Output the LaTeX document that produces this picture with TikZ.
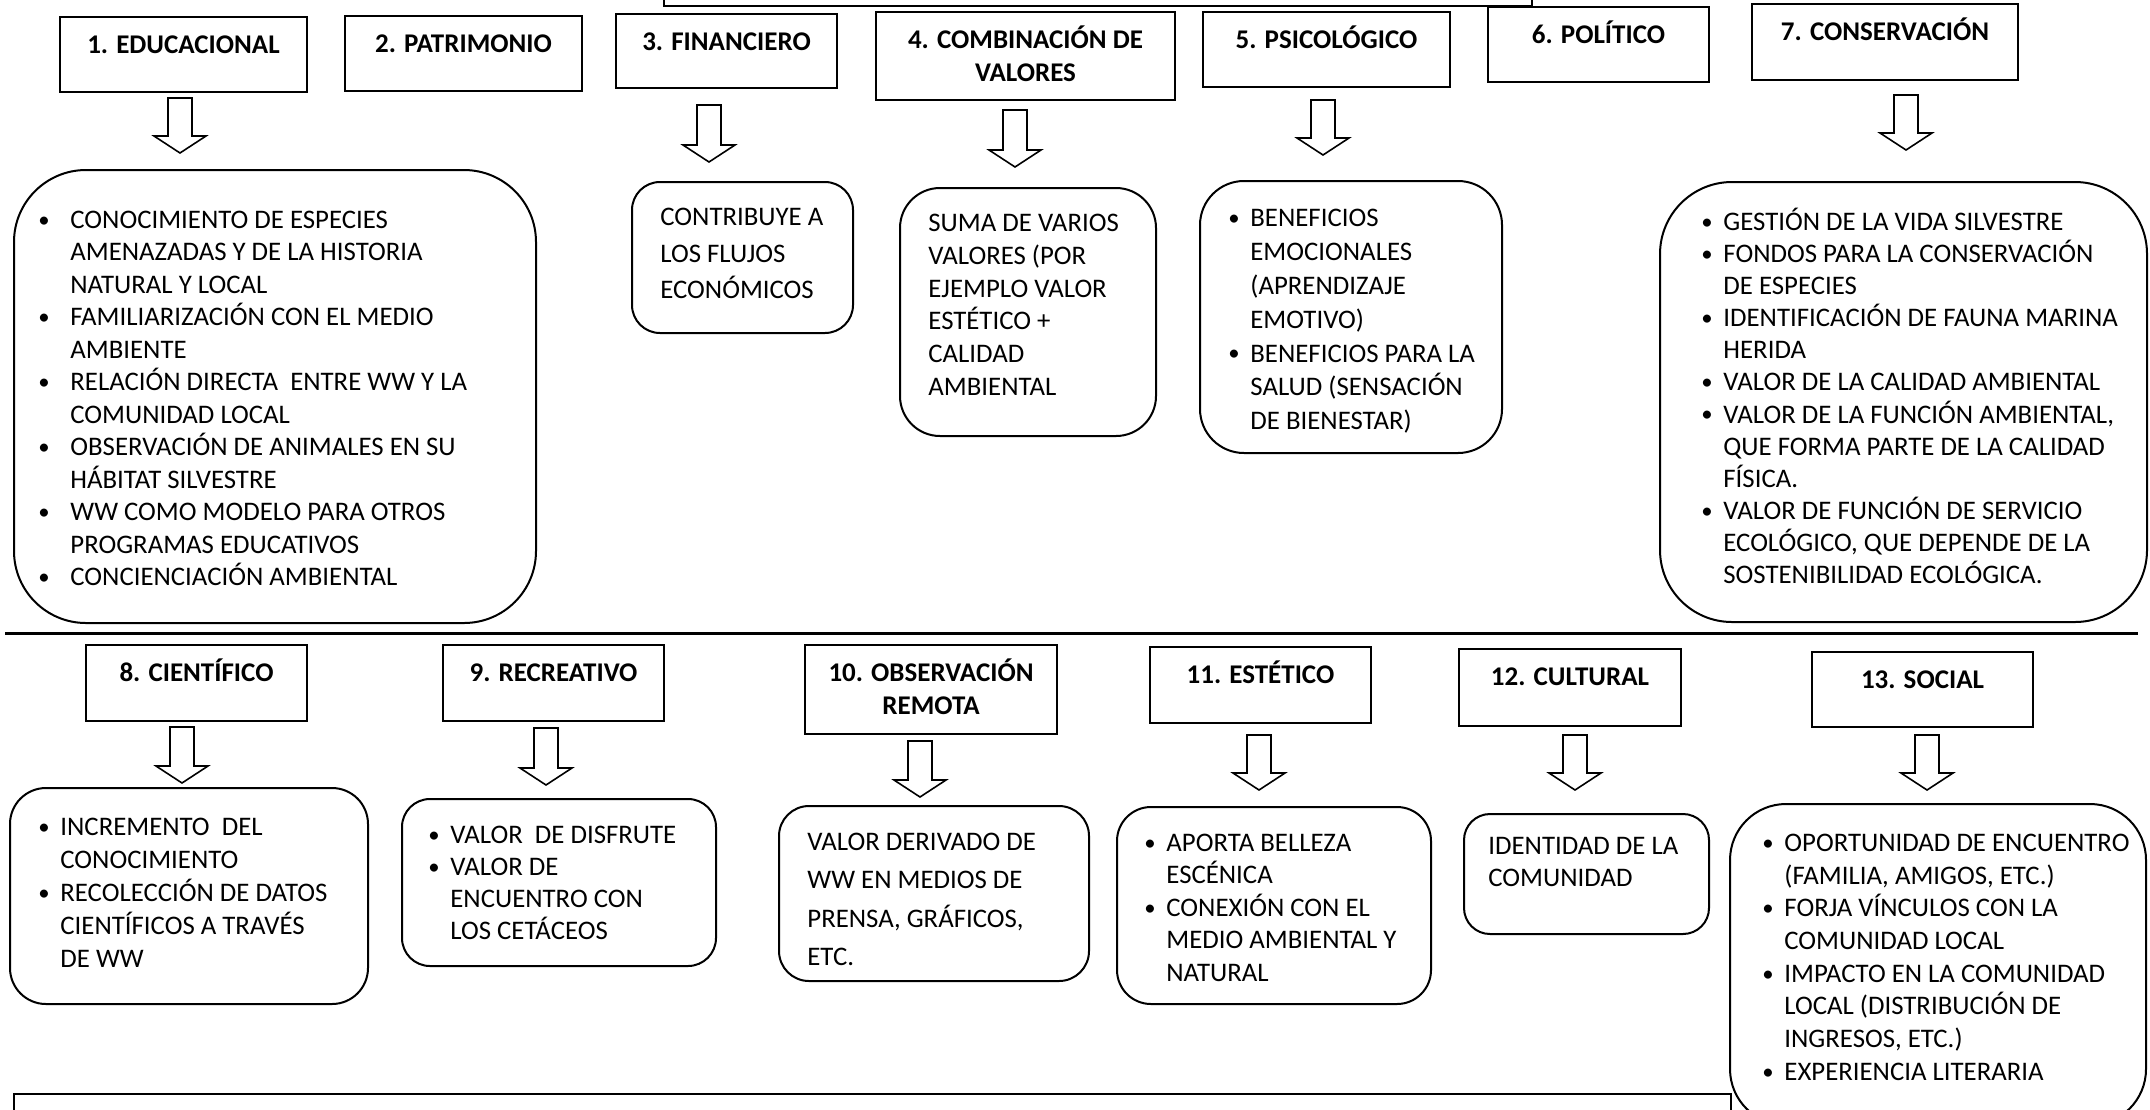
\documentclass[tikz,border=0pt]{standalone}
\usepackage{fontspec}
\setmainfont{Carlito}
\usetikzlibrary{fit,calc}
\newcommand\fl{\rule{0pt}{12pt}}
\newcommand\bul[1][11pt]{\makebox[#1][l]{\raisebox{0.6pt}{\scalebox{0.85}{\textbullet}}}}
\newcommand\ind[1][11pt]{\makebox[#1]{}}
\newcommand\blockarr[3]{%
  \draw[arrowshape] ({#1-12},#2) -- ({#1+12},#2) -- ({#1+12},{#3-17}) -- ({#1+26},{#3-17})
     -- (#1,#3) -- ({#1-26},{#3-17}) -- ({#1-12},{#3-17}) -- cycle;}
\tikzset{
  hdr/.style={draw, line width=1pt, inner sep=0pt, fit={#1}},
  rbox/.style={draw, line width=1pt, inner sep=0pt, fit={#1}},
  htext/.style={anchor=north, inner sep=0pt, align=center, font=\fontsize{13.5}{16.5}\selectfont\bfseries},
  txt/.style={anchor=north west, inner sep=0pt, align=left, font=\fontsize{13.4}{16.25}\selectfont},
  arrowshape/.style={draw, line width=0.8pt, fill=white, line join=miter},
  frame/.style={draw, line width=1pt}
}
\begin{document}
\begin{tikzpicture}[x=0.5pt,y=-0.5pt]
\useasboundingbox (0,0) rectangle (2150,1109);
\clip (0,0) rectangle (2150,1109);
\fill[white] (0,0) rectangle (2150,1109);

% partial frames at top and bottom
\draw[frame] (664,-20) rectangle (1532,6);
\draw[frame, line width=1.3pt] (14,1094) rectangle (1731,1140);
% separator
\draw[line width=1.5pt] (5,633) -- (2138,633);

% ---------- row 1 headers
\node[hdr={(60,17) (307,92)}] (h1) {};
\node[hdr={(345,16) (582,91)}] (h2) {};
\node[hdr={(616,14) (837,88)}] (h3) {};
\node[hdr={(876,12) (1175,100)}] (h4) {};
\node[hdr={(1203,12) (1450,87)}] (h5) {};
\node[hdr={(1488,7) (1709,82)}] (h6) {};
\node[hdr={(1752,4) (2018,80)}] (h7) {};
\node[htext] at ($(h1.north)+(0,13)$) {\fl 1. EDUCACIONAL};
\node[htext] at ($(h2.north)+(0,13)$) {\fl 2. PATRIMONIO};
\node[htext] at ($(h3.north)+(0,13)$) {\fl 3. FINANCIERO};
\node[htext] at ($(h4.north)+(0,13)$) {\fl 4. COMBINACIÓN DE\\VALORES};
\node[htext] at ($(h5.north)+(0,13)$) {\fl 5. PSICOLÓGICO};
\node[htext] at ($(h6.north)+(0,13)$) {\fl 6. POLÍTICO};
\node[htext] at ($(h7.north)+(0,13)$) {\fl 7. CONSERVACIÓN};

% ---------- row 1 content boxes
\node[rbox={(14,170) (536,623)}, rounded corners=36pt] (b1) {};
\node[rbox={(632,182) (853,333)}, rounded corners=14pt] (b3) {};
\node[rbox={(900,188) (1156,436)}, rounded corners=20pt] (b4) {};
\node[rbox={(1200,181) (1502,453)}, rounded corners=22pt] (b5) {};
\node[rbox={(1660,182) (2147,622)}, rounded corners=36pt] (b7) {};

\blockarr{180}{98}{153}
\blockarr{709}{105}{162}
\blockarr{1015}{110}{167}
\blockarr{1323}{100}{155}
\blockarr{1906}{95}{150}

\node[txt] (t1) at (38,204) {\fl\bul[16pt]CONOCIMIENTO DE ESPECIES\\
\ind[16pt]AMENAZADAS Y DE LA HISTORIA\\
\ind[16pt]NATURAL Y LOCAL\\
\bul[16pt]FAMILIARIZACIÓN CON EL MEDIO\\
\ind[16pt]AMBIENTE\\
\bul[16pt]RELACIÓN DIRECTA\ \ ENTRE WW Y LA\\
\ind[16pt]COMUNIDAD LOCAL\\
\bul[16pt]OBSERVACIÓN DE ANIMALES EN SU\\
\ind[16pt]HÁBITAT SILVESTRE\\
\bul[16pt]WW COMO MODELO PARA OTROS\\
\ind[16pt]PROGRAMAS EDUCATIVOS\\
\bul[16pt]CONCIENCIACIÓN AMBIENTAL};

\node[txt, font=\fontsize{13.4}{18.35}\selectfont] (t3) at (660,201) {\fl CONTRIBUYE A\\LOS FLUJOS\\ECONÓMICOS};

\node[txt, font=\fontsize{13.4}{16.4}\selectfont] (t4) at (928,207) {\fl SUMA DE VARIOS\\VALORES (POR\\EJEMPLO VALOR\\ESTÉTICO +\\CALIDAD\\AMBIENTAL};

\node[txt, font=\fontsize{13.4}{16.95}\selectfont] (t5) at (1228,202) {\fl\bul BENEFICIOS\\
\ind EMOCIONALES\\
\ind (APRENDIZAJE\\
\ind EMOTIVO)\\
\bul BENEFICIOS PARA LA\\
\ind SALUD (SENSACIÓN\\
\ind DE BIENESTAR)};

\node[txt, font=\fontsize{13.4}{16.05}\selectfont] (t7) at (1701,206) {\fl\bul GESTIÓN DE LA VIDA SILVESTRE\\
\bul FONDOS PARA LA CONSERVACIÓN\\
\ind DE ESPECIES\\
\bul IDENTIFICACIÓN DE FAUNA MARINA\\
\ind HERIDA\\
\bul VALOR DE LA CALIDAD AMBIENTAL\\
\bul VALOR DE LA FUNCIÓN AMBIENTAL,\\
\ind QUE FORMA PARTE DE LA CALIDAD\\
\ind FÍSICA.\\
\bul VALOR DE FUNCIÓN DE SERVICIO\\
\ind ECOLÓGICO, QUE DEPENDE DE LA\\
\ind SOSTENIBILIDAD ECOLÓGICA.};

% ---------- row 2 headers
\node[hdr={(86,645) (307,721)}] (h8) {};
\node[hdr={(443,645) (664,721)}] (h9) {};
\node[hdr={(805,645) (1057,734)}] (h10) {};
\node[hdr={(1150,647) (1371,723)}] (h11) {};
\node[hdr={(1459,649) (1681,726)}] (h12) {};
\node[hdr={(1812,652) (2033,727)}] (h13) {};
\node[htext] at ($(h8.north)+(0,13)$) {\fl 8. CIENTÍFICO};
\node[htext] at ($(h9.north)+(0,13)$) {\fl 9. RECREATIVO};
\node[htext] at ($(h10.north)+(0,13)$) {\fl 10. OBSERVACIÓN\\REMOTA};
\node[htext] at ($(h11.north)+(0,13)$) {\fl 11. ESTÉTICO};
\node[htext] at ($(h12.north)+(0,13)$) {\fl 12. CULTURAL};
\node[htext] at ($(h13.north)+(0,13)$) {\fl 13. SOCIAL};

% ---------- row 2 content boxes
\node[rbox={(10,788) (368,1004)}, rounded corners=18pt] (b8) {};
\node[rbox={(402,799) (716,966)}, rounded corners=14pt] (b9) {};
\node[rbox={(779,806) (1089,981)}, rounded corners=15pt] (b10) {};
\node[rbox={(1117,807) (1431,1004)}, rounded corners=17pt] (b11) {};
\node[rbox={(1464,814) (1709,934)}, rounded corners=13pt] (b12) {};
\node[rbox={(1730,804) (2146,1125)}, rounded corners=28pt] (b13) {};

\blockarr{182}{727}{783}
\blockarr{546}{728}{785}
\blockarr{920}{741}{797}
\blockarr{1259}{735}{790}
\blockarr{1575}{735}{790}
\blockarr{1927}{735}{790}

\node[txt, font=\fontsize{13.4}{16.45}\selectfont] (t8) at (38,811) {\fl\bul INCREMENTO\ \ DEL\\
\ind CONOCIMIENTO\\
\bul RECOLECCIÓN DE DATOS\\
\ind CIENTÍFICOS A TRAVÉS\\
\ind DE WW};

\node[txt, font=\fontsize{13.4}{16}\selectfont] (t9) at (428,819) {\fl\bul VALOR\ \ DE DISFRUTE\\
\bul VALOR DE\\
\ind ENCUENTRO CON\\
\ind LOS CETÁCEOS};

\node[txt, font=\fontsize{13.4}{19.15}\selectfont] (t10) at (807,826) {\fl VALOR DERIVADO DE\\WW EN MEDIOS DE\\PRENSA, GRÁFICOS,\\ETC.};

\node[txt] (t11) at (1144,827) {\fl\bul APORTA BELLEZA\\
\ind ESCÉNICA\\
\bul CONEXIÓN CON EL\\
\ind MEDIO AMBIENTAL Y\\
\ind NATURAL};

\node[txt, font=\fontsize{13.4}{16}\selectfont] (t12) at (1488,830) {\fl IDENTIDAD DE LA\\COMUNIDAD};

\node[txt, font=\fontsize{13.4}{16.35}\selectfont] (t13) at (1762,827) {\fl\bul OPORTUNIDAD DE ENCUENTRO\\
\ind (FAMILIA, AMIGOS, ETC.)\\
\bul FORJA VÍNCULOS CON LA\\
\ind COMUNIDAD LOCAL\\
\bul IMPACTO EN LA COMUNIDAD\\
\ind LOCAL (DISTRIBUCIÓN DE\\
\ind INGRESOS, ETC.)\\
\bul EXPERIENCIA LITERARIA};
\end{tikzpicture}
\end{document}
